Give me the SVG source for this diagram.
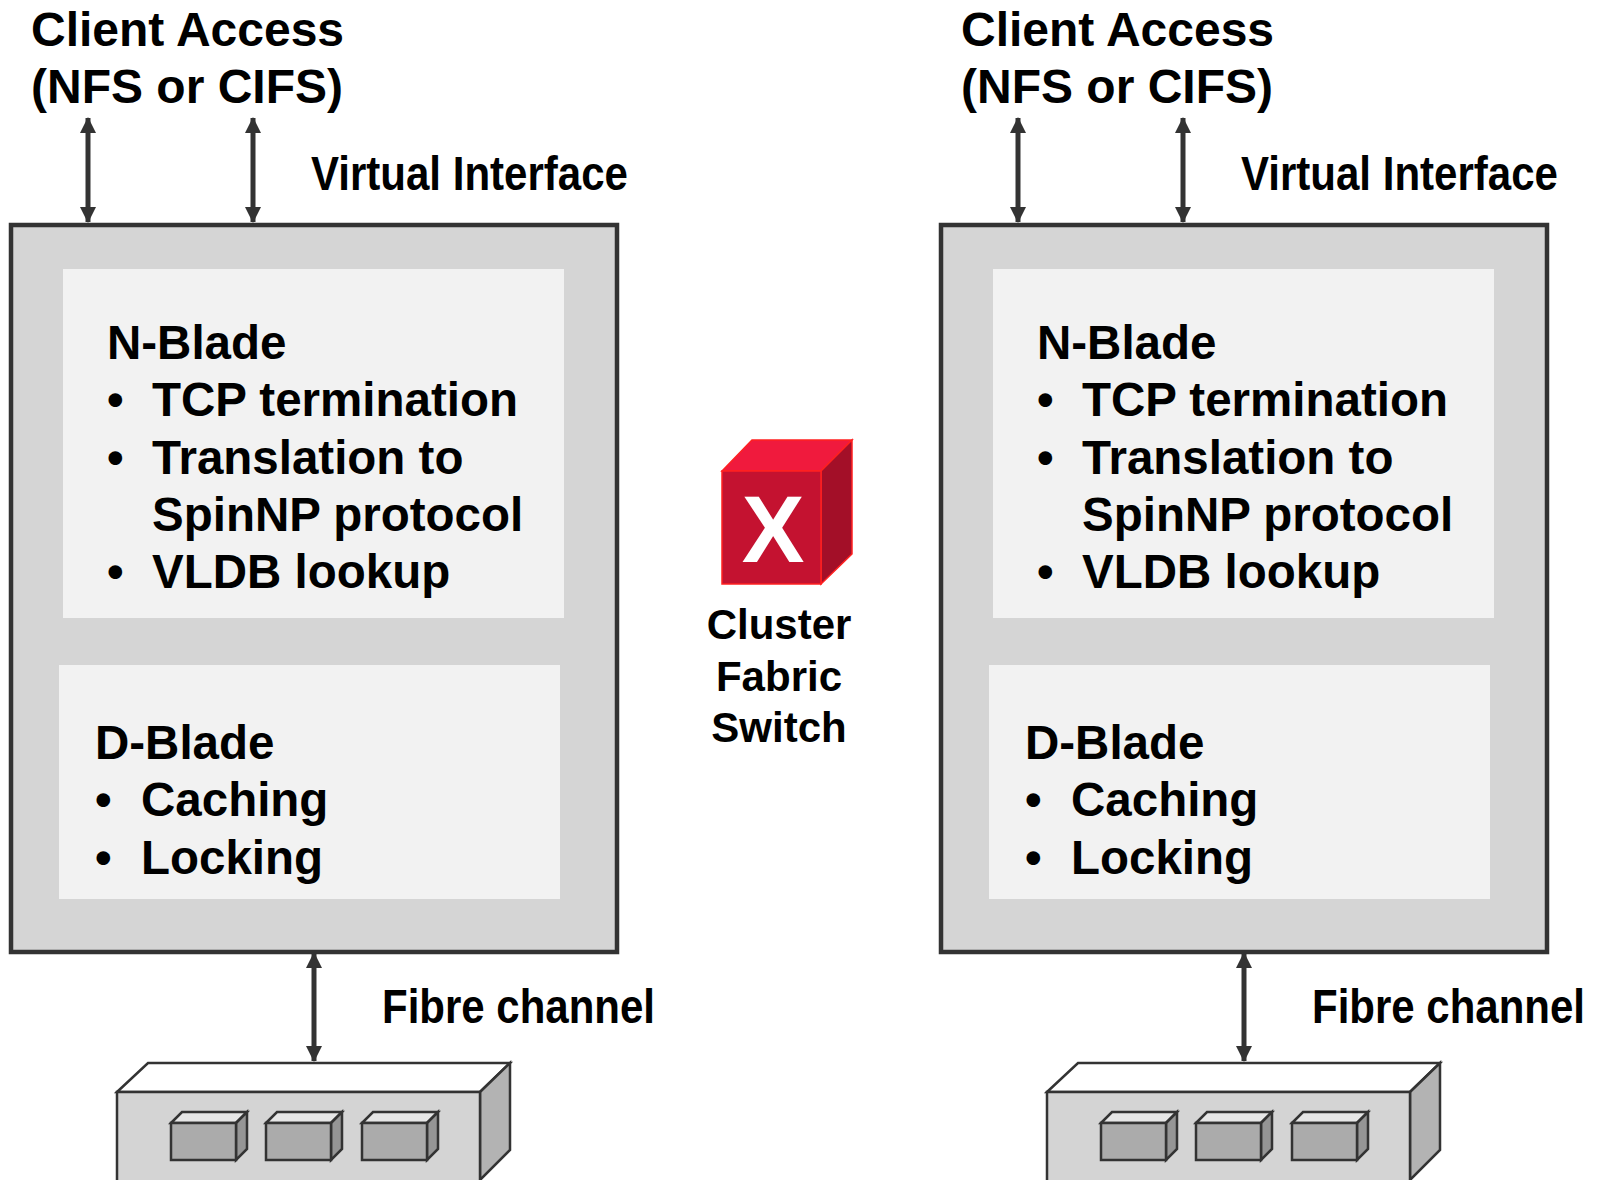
<svg xmlns="http://www.w3.org/2000/svg" width="1599" height="1180" viewBox="0 0 1599 1180">
  <style>
    .lbl { font-family: "Liberation Sans", Arial, sans-serif; font-weight: bold; fill: #000; }
    .top { font-size: 48px; }
    .blade { font-size: 47.5px; }
    .sw { font-size: 42px; text-anchor: middle; }
    .outer { fill: #d5d5d5; stroke: #333; stroke-width: 4.5; }
    .inner { fill: #f2f2f2; }
    .link { stroke: #333; stroke-width: 5; fill: none; marker-start: url(#ah); marker-end: url(#ah); }
    .sh-front { fill: #d4d4d4; stroke: #333; stroke-width: 2.5; }
    .sh-top { fill: #ffffff; stroke: #333; stroke-width: 2.5; }
    .sh-side { fill: #b3b3b3; stroke: #333; stroke-width: 2.5; }
    .d-front { fill: #ababab; stroke: #333; stroke-width: 2.5; }
    .d-top { fill: #e6e6e6; stroke: #333; stroke-width: 2.5; }
    .d-side { fill: #959595; stroke: #333; stroke-width: 2.5; }
  </style>
  <defs>
    <marker id="ah" viewBox="0 0 16 16" refX="15" refY="8" markerWidth="16" markerHeight="16" markerUnits="userSpaceOnUse" orient="auto-start-reverse">
      <path d="M0,0 L16,8 L0,16 z" fill="#333"/>
    </marker>
    <!-- one drive with its top and side faces -->
    <g id="drive">
      <polygon class="d-top" points="0,0 11,-11 76,-11 65,0"/>
      <polygon class="d-side" points="65,0 76,-11 76,26 65,37"/>
      <rect class="d-front" x="0" y="0" width="65" height="37"/>
    </g>
    <!-- disk shelf with three drives -->
    <g id="shelf">
      <polygon class="sh-top" points="117,1092 148,1063 510,1063 480,1092"/>
      <polygon class="sh-side" points="480,1092 510,1063 510,1150 480,1180"/>
      <rect class="sh-front" x="117" y="1092" width="363" height="95"/>
      <use href="#drive" x="171" y="1123"/>
      <use href="#drive" x="266" y="1123"/>
      <use href="#drive" x="362" y="1123"/>
    </g>
    <!-- a controller: outer chassis, N-Blade and D-Blade panels -->
    <g id="node">
      <rect class="outer" x="11" y="225" width="606" height="727"/>
      <rect class="inner" x="63" y="269" width="501" height="349"/>
      <rect class="inner" x="59" y="665" width="501" height="234"/>
      <text class="lbl blade" x="107" y="359">N-Blade</text>
      <text class="lbl blade" x="107" y="416">•</text>
      <text class="lbl blade" x="152" y="416">TCP termination</text>
      <text class="lbl blade" x="107" y="474">•</text>
      <text class="lbl blade" x="152" y="474">Translation to</text>
      <text class="lbl blade" x="152" y="531">SpinNP protocol</text>
      <text class="lbl blade" x="107" y="588">•</text>
      <text class="lbl blade" x="152" y="588">VLDB lookup</text>
      <text class="lbl blade" x="95" y="759">D-Blade</text>
      <text class="lbl blade" x="95" y="816">•</text>
      <text class="lbl blade" x="141" y="816">Caching</text>
      <text class="lbl blade" x="95" y="874">•</text>
      <text class="lbl blade" x="141" y="874">Locking</text>
    </g>
  </defs>

  <rect width="1599" height="1180" fill="#ffffff"/>

  <!-- left controller -->
  <g id="node-left">
    <use href="#node"/>
  </g>
  <g id="shelf-left">
    <use href="#shelf"/>
  </g>

  <!-- right controller -->
  <g id="node-right">
    <use href="#node" x="930"/>
  </g>
  <g id="shelf-right">
    <use href="#shelf" x="930"/>
  </g>

  <!-- labels outside the nodes; the narrower ones are squeezed horizontally -->
  <g id="labels">
    <text class="lbl top" x="31" y="46">Client Access</text>
    <text class="lbl top" x="31" y="103">(NFS or CIFS)</text>
    <text class="lbl top" transform="translate(311,190) scale(0.876,1)">Virtual Interface</text>
    <text class="lbl top" transform="translate(382,1023) scale(0.875,1)">Fibre channel</text>
    <text class="lbl top" x="961" y="46">Client Access</text>
    <text class="lbl top" x="961" y="103">(NFS or CIFS)</text>
    <text class="lbl top" transform="translate(1241,190) scale(0.876,1)">Virtual Interface</text>
    <text class="lbl top" transform="translate(1312,1023) scale(0.875,1)">Fibre channel</text>
  </g>

  <!-- cluster fabric switch -->
  <g id="switch">
    <polygon points="722,471 752,440 852,440 821,471" fill="#f01a3d" stroke="#ff2020" stroke-width="1.5"/>
    <polygon points="821,471 852,440 852,554 821,584" fill="#a30f28" stroke="#ff2020" stroke-width="1.5"/>
    <rect x="722" y="471" width="99" height="113" fill="#c41230" stroke="#ff2020" stroke-width="1.5"/>
    <text x="773" y="562" font-family="Liberation Sans, Arial, sans-serif" font-weight="bold" font-size="94" fill="#ffffff" text-anchor="middle">X</text>
    <text class="lbl sw" x="779" y="639">Cluster</text>
    <text class="lbl sw" x="779" y="691">Fabric</text>
    <text class="lbl sw" x="779" y="742">Switch</text>
  </g>

  <!-- connectors -->
  <g id="connectors">
    <line class="link" x1="88" y1="118" x2="88" y2="222"/>
    <line class="link" x1="253" y1="118" x2="253" y2="222"/>
    <line class="link" x1="314" y1="953" x2="314" y2="1061"/>
    <line class="link" x1="1018" y1="118" x2="1018" y2="222"/>
    <line class="link" x1="1183" y1="118" x2="1183" y2="222"/>
    <line class="link" x1="1244" y1="953" x2="1244" y2="1061"/>
  </g>
</svg>
